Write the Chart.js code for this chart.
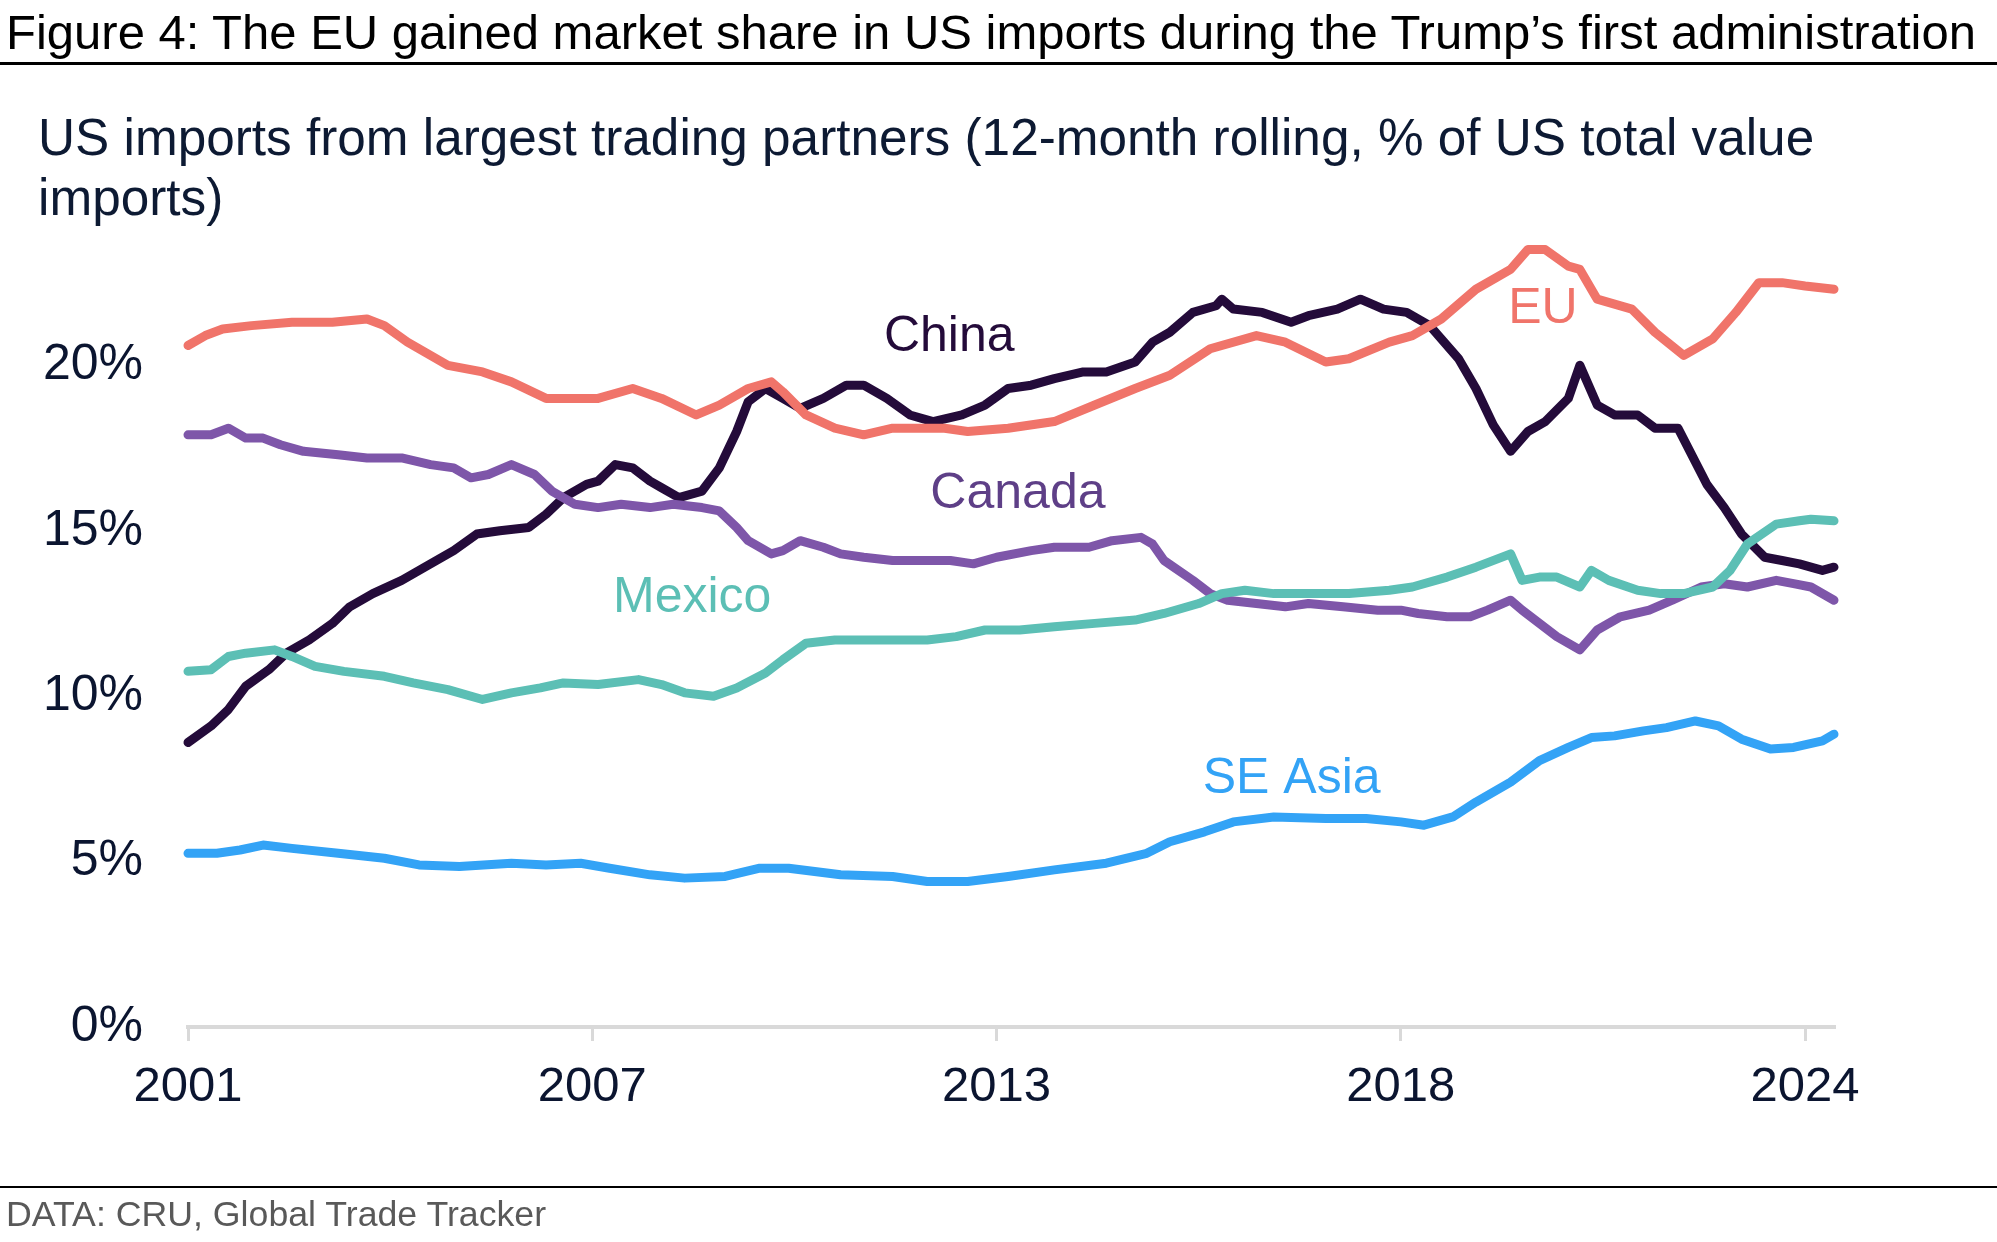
<!DOCTYPE html>
<html><head><meta charset="utf-8">
<script src="https://cdn.jsdelivr.net/npm/chart.js@4.4.1/dist/chart.umd.min.js"></script>
<style>
html,body{margin:0;padding:0;background:#fff;}
#wrap{position:relative;width:1997px;height:1242px;overflow:hidden;font-family:"Liberation Sans",Arial,sans-serif;}
.t{position:absolute;white-space:nowrap;}
#c{position:absolute;left:0;top:0;}
</style></head>
<body><div id="wrap">
<canvas id="c" width="1997" height="1242"></canvas>
<div class="t" id="title" style="left:6px;top:8px;font-size:49px;line-height:49px;color:#000;">Figure 4: The EU gained market share in US imports during the Trump’s first administration</div>
<div style="position:absolute;left:0;top:62px;width:1997px;height:3px;background:#000"></div>
<div class="t" id="sub1" style="left:38px;top:112px;font-size:51.3px;line-height:51px;color:#0d1a33;">US imports from largest trading partners (12-month rolling, % of US total value</div>
<div class="t" id="sub2" style="left:38px;top:172px;font-size:51.3px;line-height:51px;color:#0d1a33;">imports)</div>
<div style="position:absolute;left:0;top:1186px;width:1997px;height:2px;background:#000"></div>
<div class="t" id="foot" style="left:6px;top:1197px;font-size:35.7px;line-height:35px;color:#595959;">DATA: CRU, Global Trade Tracker</div>
</div>
<script>
// x axis: months since start of series
const tickMonths = [0, 70, 140, 210, 280];
const tickLabels = ["2001", "2007", "2013", "2018", "2024"];

const chinaMonths = [0,4,7,10,14,17,21,25,28,32,37,41,46,50,54,59,62,65,69,71,74,77,80,82,85,89,92,95,97,100,103,106,110,114,117,121,125,129,134,138,142,146,150,155,159,164,167,170,174,178,179,181,186,191,194,199,203,207,211,215,220,223,226,229,232,235,239,241,244,247,251,254,258,263,266,269,273,276,279,283,285];
const chinaValues = [8.6,9.1,9.6,10.3,10.8,11.3,11.7,12.2,12.7,13.1,13.5,13.9,14.4,14.9,15.0,15.1,15.5,16.0,16.4,16.5,17.0,16.9,16.5,16.3,16.0,16.2,16.9,18.0,18.9,19.3,19.0,18.7,19.0,19.4,19.4,19.0,18.5,18.3,18.5,18.8,19.3,19.4,19.6,19.8,19.8,20.1,20.7,21.0,21.6,21.8,22.0,21.7,21.6,21.3,21.5,21.7,22.0,21.7,21.6,21.2,20.2,19.3,18.2,17.4,18.0,18.3,19.0,20.0,18.8,18.5,18.5,18.1,18.1,16.4,15.7,14.9,14.2,14.1,14.0,13.8,13.9];

const euMonths = [0,3,6,11,18,25,31,34,38,45,51,56,62,64,71,77,82,88,92,97,101,103,107,112,117,122,131,135,142,150,157,164,170,177,185,190,197,201,208,212,217,223,229,232,235,239,241,244,250,254,259,264,268,272,276,280,285];
const euValues = [20.6,20.9,21.1,21.2,21.3,21.3,21.4,21.2,20.7,20.0,19.8,19.5,19.0,19.0,19.0,19.3,19.0,18.5,18.8,19.3,19.5,19.2,18.5,18.1,17.9,18.1,18.1,18.0,18.1,18.3,18.8,19.3,19.7,20.5,20.9,20.7,20.1,20.2,20.7,20.9,21.4,22.3,22.9,23.5,23.5,23.0,22.9,22.0,21.7,21.0,20.3,20.8,21.6,22.5,22.5,22.4,22.3];

const canadaMonths = [0,4,7,10,13,16,20,26,31,37,42,46,49,52,56,60,63,67,71,75,80,84,89,92,95,97,101,103,106,110,113,117,122,126,132,136,140,146,150,156,160,165,167,169,174,177,180,185,190,194,200,206,210,213,218,222,225,229,231,234,237,241,244,248,253,257,262,266,270,275,278,281,285];
const canadaValues = [17.9,17.9,18.1,17.8,17.8,17.6,17.4,17.3,17.2,17.2,17.0,16.9,16.6,16.7,17.0,16.7,16.2,15.8,15.7,15.8,15.7,15.8,15.7,15.6,15.1,14.7,14.3,14.4,14.7,14.5,14.3,14.2,14.1,14.1,14.1,14.0,14.2,14.4,14.5,14.5,14.7,14.8,14.6,14.1,13.5,13.1,12.9,12.8,12.7,12.8,12.7,12.6,12.6,12.5,12.4,12.4,12.6,12.9,12.6,12.2,11.8,11.4,12.0,12.4,12.6,12.9,13.3,13.4,13.3,13.5,13.4,13.3,12.9];

const mexicoMonths = [0,4,7,10,15,18,22,27,34,39,45,51,56,61,65,71,78,82,86,91,95,100,103,107,112,117,124,128,133,138,144,150,157,164,169,175,179,183,188,194,201,208,212,218,223,229,231,234,237,241,243,246,251,255,259,264,267,270,275,279,281,285];
const mexicoValues = [10.75,10.8,11.2,11.3,11.4,11.2,10.9,10.75,10.6,10.4,10.2,9.9,10.1,10.25,10.4,10.35,10.5,10.35,10.1,10.0,10.25,10.7,11.1,11.6,11.7,11.7,11.7,11.7,11.8,12.0,12.0,12.1,12.2,12.3,12.5,12.8,13.1,13.2,13.1,13.1,13.1,13.2,13.3,13.6,13.9,14.3,13.5,13.6,13.6,13.3,13.8,13.5,13.2,13.1,13.1,13.3,13.8,14.6,15.2,15.3,15.35,15.3];

const seAsiaMonths = [0,5,9,13,18,26,34,40,47,56,62,68,73,80,86,93,99,104,113,122,128,135,142,150,159,166,170,176,181,188,197,204,210,214,219,223,229,234,239,243,247,252,256,261,265,269,274,278,283,285];
const seAsiaValues = [5.25,5.25,5.35,5.5,5.4,5.25,5.1,4.9,4.85,4.95,4.9,4.95,4.8,4.6,4.5,4.55,4.8,4.8,4.6,4.55,4.4,4.4,4.55,4.75,4.95,5.25,5.6,5.9,6.2,6.35,6.3,6.3,6.2,6.1,6.35,6.8,7.4,8.05,8.45,8.75,8.8,8.95,9.05,9.25,9.1,8.7,8.4,8.45,8.65,8.85];

const seriesNames = ["China", "EU", "Canada", "Mexico", "SE Asia"];
const seriesColors = ["#240b3a", "#f0746a", "#7e56a9", "#5cbfb5", "#33a3f6"];
const labelColors = ["#240b3a", "#f0746a", "#5e3f87", "#5cbfb5", "#33a3f6"];
// label anchor positions in data units (month, %)
const labelMonths = [131.8, 234.6, 143.7, 87.3, 191.1];
const labelValues = [20.85, 21.7, 16.1, 12.95, 7.48];

const allMonths = [chinaMonths, euMonths, canadaMonths, mexicoMonths, seAsiaMonths];
const allValues = [chinaValues, euValues, canadaValues, mexicoValues, seAsiaValues];

const FONT = "'Liberation Sans', Arial, sans-serif";
Chart.defaults.font.family = FONT;

const datasets = seriesNames.map((n, k) => ({
  label: n,
  data: allMonths[k].map((m, i) => ({x: m, y: allValues[k][i]})),
  borderColor: seriesColors[k],
  backgroundColor: seriesColors[k],
  borderWidth: 9,
  pointRadius: 0,
  tension: 0,
  borderCapStyle: 'round',
  borderJoinStyle: 'round',
  clip: false,
  fill: false
}));
// draw order: blue first, dark China last on top
datasets.reverse();

const lineLabels = {
  id: 'lineLabels',
  afterDatasetsDraw(chart) {
    const ctx = chart.ctx, xs = chart.scales.x, ys = chart.scales.y;
    ctx.save();
    ctx.font = "50px " + FONT;
    ctx.textAlign = 'center';
    ctx.textBaseline = 'middle';
    seriesNames.forEach((n, k) => {
      ctx.fillStyle = labelColors[k];
      ctx.fillText(n, xs.getPixelForValue(labelMonths[k]), ys.getPixelForValue(labelValues[k]));
    });
    ctx.restore();
  }
};

new Chart(document.getElementById('c'), {
  type: 'line',
  data: { datasets },
  plugins: [lineLabels],
  options: {
    responsive: false,
    devicePixelRatio: 1,
    animation: false,
    layout: { padding: { left: 0, right: 163, top: 233, bottom: 0 } },
    plugins: { legend: { display: false }, tooltip: { enabled: false }, title: { display: false } },
    scales: {
      x: {
        type: 'linear',
        min: 0, max: 285,
        afterBuildTicks(scale) { scale.ticks = tickMonths.map(v => ({ value: v })); },
        afterFit(scale) { scale.height = 215; },
        grid: { drawOnChartArea: false, drawTicks: true, tickLength: 14, color: '#d9d9d9', lineWidth: 3 },
        border: { display: true, color: '#d9d9d9', width: 4 },
        ticks: {
          autoSkip: false, maxRotation: 0, padding: 17,
          color: '#0b1530', font: { size: 49 },
          callback(v) { const i = tickMonths.indexOf(v); return i >= 0 ? tickLabels[i] : ''; }
        }
      },
      y: {
        type: 'linear',
        min: 0, max: 24,
        afterFit(scale) { scale.width = 188; },
        grid: { display: false, drawTicks: false },
        border: { display: false },
        ticks: {
          stepSize: 5, includeBounds: false, padding: 45,
          color: '#0b1530', font: { size: 50 },
          callback(v) { return v + '%'; }
        }
      }
    }
  }
});
</script>
</body></html>
